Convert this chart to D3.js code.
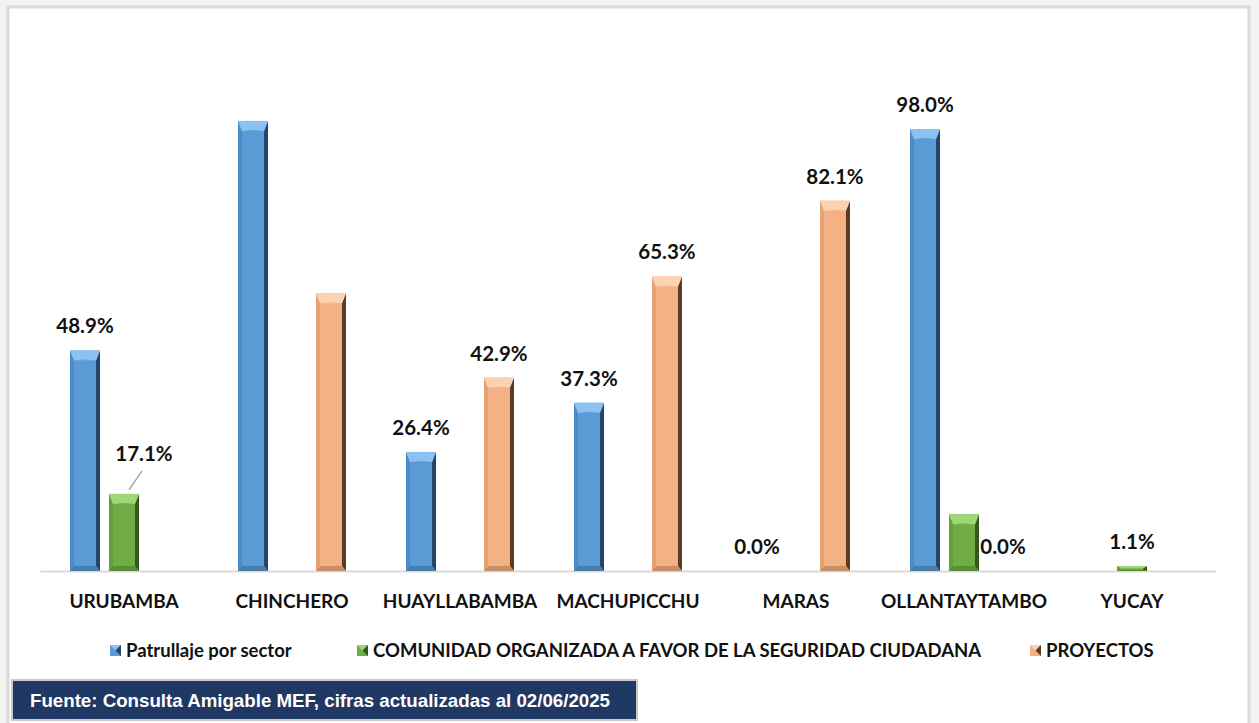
<!DOCTYPE html>
<html lang="es">
<head>
<meta charset="utf-8">
<title>Avance por distrito</title>
<script src="https://d3js.org/d3.v7.min.js"></script>
<style>
  body { margin: 0; background: #f3f3f3; }
  svg { display: block; }
</style>
</head>
<body>
<script>
var categories = ["URUBAMBA", "CHINCHERO", "HUAYLLABAMBA", "MACHUPICCHU", "MARAS", "OLLANTAYTAMBO", "YUCAY"];
var seriesNames = ["Patrullaje por sector", "COMUNIDAD ORGANIZADA A FAVOR DE LA SEGURIDAD CIUDADANA", "PROYECTOS"];
// null = no bar drawn
var patrullaje = [48.9, 99.8, 26.4, 37.3, 0.0, 98.0, null];
var comunidad  = [17.1, null, null, null, null, 12.6, 1.1];
var proyectos  = [null, 61.6, 42.9, 65.3, 82.1, 0.0, null];
// which values carry a data label
var showPatrullaje = [true, false, true, true, true, true, false];
var showComunidad  = [true, false, false, false, false, false, true];
var showProyectos  = [false, false, true, true, true, true, false];
var fuente = "Fuente: Consulta Amigable MEF, cifras actualizadas al 02/06/2025";

var width = 1259, height = 723;
var margin = {top: 120, left: 40, right: 43, bottom: 152};

var palette = [
  {base: "#5b9bd5", light: "#8cc2f2", dark: "#25446a", side: "#4e8cc8"},
  {base: "#70ad47", light: "#9fd677", dark: "#34561f", side: "#62a03b"},
  {base: "#f4b183", light: "#fdd2b1", dark: "#5a3b26", side: "#e8a173"}
];

var series = [
  {name: seriesNames[0], values: patrullaje, show: showPatrullaje},
  {name: seriesNames[1], values: comunidad, show: showComunidad},
  {name: seriesNames[2], values: proyectos, show: showProyectos}
];

var svg = d3.select("body").append("svg")
  .attr("width", width)
  .attr("height", height);

// chart area frame
svg.append("rect")
  .attr("x", 8).attr("y", 7)
  .attr("width", 1241).attr("height", 730)
  .attr("fill", "#fff")
  .attr("stroke", "#d9d9d9")
  .attr("stroke-width", 3);

var x0 = d3.scaleBand()
  .domain(categories)
  .range([margin.left, width - margin.right]);

var x1 = d3.scaleBand()
  .domain(d3.range(series.length))
  .range([0, x0.bandwidth()])
  .paddingInner(0.23)
  .paddingOuter(0.77);

var baseY = height - margin.bottom;
var y = d3.scaleLinear()
  .domain([0, 100])
  .range([baseY, baseY - 451]);

var font = "Lato, 'Noto Sans', sans-serif";

// axis line
svg.append("g")
  .attr("transform", "translate(0," + baseY + ")")
  .call(d3.axisBottom(x0).tickSize(0).tickPadding(24))
  .call(function(g) {
    g.select(".domain").attr("stroke", "#d9d9d9").attr("stroke-width", 2);
    g.selectAll("text")
      .attr("font-family", font)
      .attr("font-weight", "bold")
      .attr("font-size", 19)
      .attr("fill", "#111");
  });

function bevelBar(g, x, yTop, w, h, c) {
  var b = Math.min(4, w / 6);
  var cap = Math.min(10, h / 2);
  g.append("rect").attr("x", x).attr("y", yTop).attr("width", w).attr("height", h).attr("fill", c.base);
  // left and right bevel strips
  g.append("polygon")
    .attr("points", [[x, yTop], [x + b, yTop + cap], [x + b, yTop + h - cap / 2], [x, yTop + h]].join(" "))
    .attr("fill", c.side);
  g.append("polygon")
    .attr("points", [[x + w, yTop], [x + w - b, yTop + cap], [x + w - b, yTop + h - cap / 2], [x + w, yTop + h]].join(" "))
    .attr("fill", c.dark);
  // top cap
  g.append("polygon")
    .attr("points", [[x, yTop], [x + w, yTop], [x + w - b, yTop + cap], [x + w / 2, yTop + cap], [x + b, yTop + cap]].join(" "))
    .attr("fill", c.light);
  g.append("polygon")
    .attr("points", [[x + b, yTop + cap], [x + w - b, yTop + cap], [x + w / 2, yTop + cap * 0.9]].join(" "))
    .attr("fill", c.base);
  // bottom bevel
  g.append("polygon")
    .attr("points", [[x, yTop + h], [x + w, yTop + h], [x + w - b, yTop + h - cap / 2], [x + b, yTop + h - cap / 2]].join(" "))
    .attr("fill", d3.color(c.base).darker(0.6));
}

var bars = svg.append("g");
series.forEach(function(s, si) {
  s.values.forEach(function(v, ci) {
    if (v === null || v <= 0) return;
    var bx = x0(categories[ci]) + x1(si);
    bevelBar(bars, bx, y(v), x1.bandwidth(), baseY - y(v), palette[si]);
  });
});

// data labels
var labels = svg.append("g")
  .attr("font-family", font)
  .attr("font-weight", "bold")
  .attr("font-size", 20.5)
  .attr("fill", "#111")
  .attr("text-anchor", "middle");

series.forEach(function(s, si) {
  s.values.forEach(function(v, ci) {
    if (!s.show[ci]) return;
    var cx = x0(categories[ci]) + x1(si) + x1.bandwidth() / 2;
    var ty = y(v) - 17;
    // the URUBAMBA community label was dragged off the bar, with a leader line
    if (si === 1 && ci === 0) {
      cx += 20;
      ty -= 16;
      svg.append("line")
        .attr("x1", cx - 15).attr("y1", y(v) - 4)
        .attr("x2", cx - 2).attr("y2", ty + 10)
        .attr("stroke", "#a6a6a6").attr("stroke-width", 1.5);
    }
    labels.append("text")
      .attr("x", cx)
      .attr("y", ty)
      .text(d3.format(".1f")(v) + "%");
  });
});

// legend
var legendItems = [
  {x: 110, i: 0},
  {x: 357, i: 1},
  {x: 1030, i: 2}
];
var legend = svg.append("g").attr("transform", "translate(0,651)");
legendItems.forEach(function(d) {
  var c = palette[d.i];
  var g = legend.append("g").attr("transform", "translate(" + d.x + ",-6)");
  g.append("rect").attr("width", 11).attr("height", 11).attr("fill", c.base);
  g.append("polygon").attr("points", "0,0 11,0 5.5,5.5").attr("fill", c.light);
  g.append("polygon").attr("points", "11,0 11,11 5.5,5.5").attr("fill", c.dark);
  legend.append("text")
    .attr("x", d.x + 16)
    .attr("y", 0)
    .attr("dy", "0.35em")
    .attr("font-family", font)
    .attr("font-weight", "bold")
    .attr("font-size", 18.5)
    .attr("fill", "#111")
    .text(seriesNames[d.i]);
});

// source box
svg.append("rect")
  .attr("x", 12).attr("y", 680)
  .attr("width", 625).attr("height", 40)
  .attr("fill", "#1f3864")
  .attr("stroke", "#c8c8c8")
  .attr("stroke-width", 2);
svg.append("text")
  .attr("x", 30).attr("y", 700)
  .attr("dy", "0.36em")
  .attr("font-family", "'Liberation Sans Narrow', 'Liberation Sans', Arial, sans-serif")
  .attr("font-weight", "bold")
  .attr("font-size", 18.5)
  .attr("fill", "#fff")
  .attr("textLength", 580)
  .attr("lengthAdjust", "spacingAndGlyphs")
  .text(fuente);
</script>
</body>
</html>
